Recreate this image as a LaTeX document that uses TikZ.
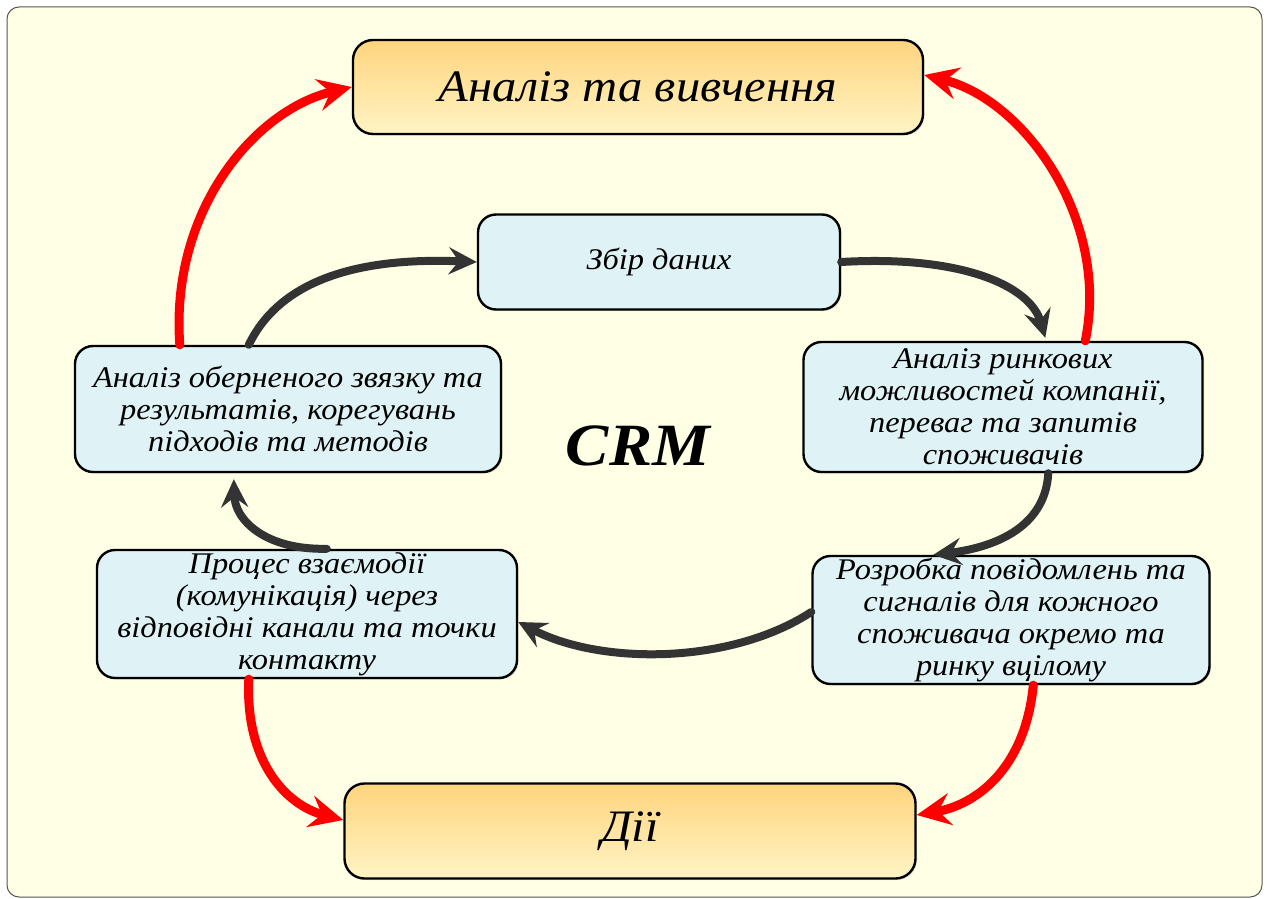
\documentclass[tikz,border=0pt]{standalone}
\usepackage{fontspec}
\setmainfont{Liberation Serif}
\newfontfamily\widefont[FakeStretch=1.08]{Liberation Serif}
\usetikzlibrary{arrows.meta,shadows,calc}
\definecolor{bgyellow}{HTML}{FFFFE6}
\definecolor{boxblue}{HTML}{DFF2F5}
\definecolor{goldtop}{HTML}{FFD47E}
\definecolor{goldbot}{HTML}{FFF4C4}
\definecolor{darkarrow}{HTML}{333333}
\definecolor{framegray}{HTML}{555555}
\tikzset{
  bluebox/.style={draw=black, line width=2.4pt, fill=boxblue, rounded corners=18pt,
    align=center, font=\widefont\fontsize{30}{32}\selectfont\itshape, inner sep=0pt,
    drop shadow={opacity=0.25, shadow xshift=1.5pt, shadow yshift=-1.5pt}},
  goldbox/.style={draw=black, line width=2.4pt, top color=goldtop, bottom color=goldbot,
    rounded corners=20pt, align=center, inner sep=0pt,
    font=\widefont\fontsize{45}{50}\selectfont\itshape,
    drop shadow={opacity=0.25, shadow xshift=1.5pt, shadow yshift=-1.5pt}},
  redarrow/.style={draw=red, line width=9pt, line cap=round,
    -{Stealth[length=34pt,width=32pt,inset=12pt]}},
  darkarr/.style={draw=darkarrow, line width=8pt, line cap=round,
    -{Stealth[length=28pt,width=27pt,inset=10pt]}},
}
\begin{document}
\begin{tikzpicture}[x=1pt,y=-1pt]
\useasboundingbox (0,0) rectangle (1267,899);
\fill[white] (0,0) rectangle (1267,899);
\draw[framegray, line width=1pt, fill=bgyellow, rounded corners=12pt] (7,7) rectangle (1262,897);

\node[goldbox, minimum width=570pt, minimum height=94pt] (tb) at (638,87) {Аналіз та вивчення};
\node[goldbox, minimum width=571pt, minimum height=95pt] (bb) at (630,831) {Дії};
\node[bluebox, minimum width=362pt, minimum height=95pt] (zb) at (659,262) {Збір даних};
\node[bluebox, minimum width=399pt, minimum height=130pt] (rb) at (1003,407) {Аналіз ринкових\\можливостей компанії,\\переваг та запитів\\споживачів};
\node[bluebox, minimum width=426pt, minimum height=126pt] (lb) at (288,409) {Аналіз оберненого звязку та\\результатів, корегувань\\підходів та методів};
\node[bluebox, minimum width=397pt, minimum height=128pt] (lrb) at (1011,620) {Розробка повідомлень та\\сигналів для кожного\\споживача окремо та\\ринку вцілому};
\node[bluebox, minimum width=420pt, minimum height=128pt] (llb) at (307,614) {Процес взаємодії\\(комунікація) через\\відповідні канали та точки\\контакту};
\node[font=\widefont\fontsize{60}{64}\selectfont\bfseries\itshape] (crm) at (638,446) {CRM};

% red arrows
\draw[redarrow] ([xshift=106pt]lb.north west) .. controls (170,210) and (255,110) .. (tb.west);
\draw[redarrow] ([xshift=283pt]rb.north west) .. controls (1110,220) and (1025,100) .. ([yshift=12pt]tb.east);
\draw[redarrow] ([xshift=153pt]llb.south west) .. controls (245,760) and (285,805) .. ([yshift=11pt]bb.west);
\draw[redarrow] ([xshift=222pt]lrb.south west) .. controls (1025,770) and (975,805) .. ([yshift=16pt]bb.east);

% dark arrows
\draw[darkarr] ([xshift=175pt]lb.north west) .. controls (285,270) and (380,258) .. (zb.west);
\draw[darkarr] (zb.east) .. controls (960,255) and (1030,285) .. ([xshift=243pt,yshift=3pt]rb.north west);
\draw[darkarr] ([xshift=246pt]rb.south west) .. controls (1045,530) and (990,548) .. ([xshift=122pt]lrb.north west);
\draw[darkarr] ([yshift=8pt]lrb.west) .. controls (730,665) and (600,665) .. ([yshift=-8pt]llb.east);
\draw[darkarr] ([xshift=231pt]llb.north west) .. controls (265,550) and (235,520) .. ([xshift=160pt,yshift=-6pt]lb.south west);
\end{tikzpicture}
\end{document}
